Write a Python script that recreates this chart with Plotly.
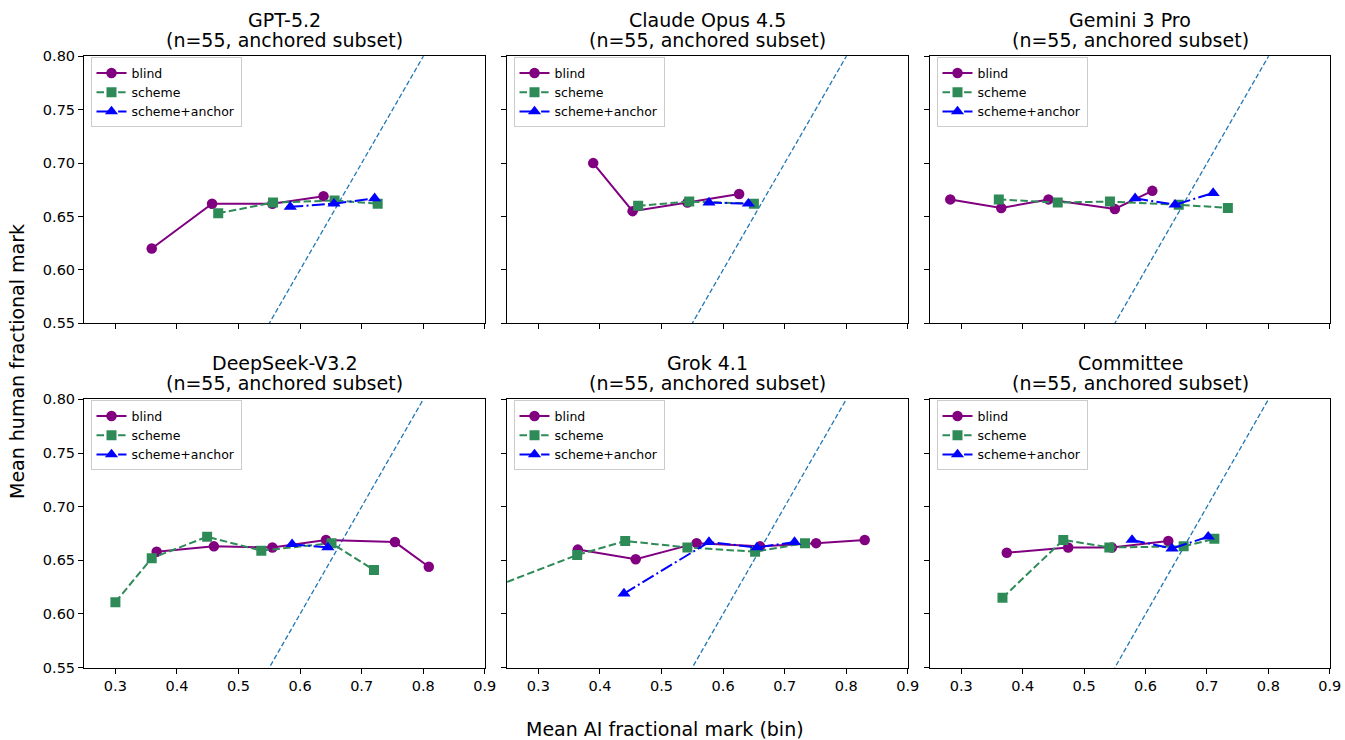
import plotly.graph_objects as go

W, H = 1345, 740

panel_titles = ["GPT-5.2", "Claude Opus 4.5", "Gemini 3 Pro",
                "DeepSeek-V3.2", "Grok 4.1", "Committee"]
subtitle = "(n=55, anchored subset)"

# blind
gpt_blind_x = [0.359, 0.457, 0.555, 0.638]
gpt_blind_y = [0.620, 0.662, 0.662, 0.669]
claude_blind_x = [0.389, 0.453, 0.542, 0.626]
claude_blind_y = [0.700, 0.655, 0.663, 0.671]
gemini_blind_x = [0.282, 0.365, 0.442, 0.550, 0.611]
gemini_blind_y = [0.666, 0.658, 0.666, 0.657, 0.674]
deepseek_blind_x = [0.367, 0.460, 0.555, 0.642, 0.754, 0.809]
deepseek_blind_y = [0.658, 0.663, 0.662, 0.669, 0.667, 0.644]
grok_blind_x = [0.364, 0.458, 0.557, 0.660, 0.751, 0.830]
grok_blind_y = [0.660, 0.651, 0.666, 0.663, 0.666, 0.669]
committee_blind_x = [0.374, 0.474, 0.545, 0.637]
committee_blind_y = [0.657, 0.662, 0.662, 0.668]

# scheme
gpt_scheme_x = [0.467, 0.556, 0.656, 0.726]
gpt_scheme_y = [0.653, 0.663, 0.665, 0.662]
claude_scheme_x = [0.462, 0.545, 0.650]
claude_scheme_y = [0.660, 0.664, 0.662]
gemini_scheme_x = [0.361, 0.457, 0.542, 0.654, 0.734]
gemini_scheme_y = [0.666, 0.663, 0.664, 0.661, 0.658]
deepseek_scheme_x = [0.300, 0.359, 0.449, 0.537, 0.651, 0.720]
deepseek_scheme_y = [0.611, 0.652, 0.672, 0.659, 0.666, 0.641]
grok_scheme_x = [0.200, 0.363, 0.441, 0.542, 0.652, 0.733]
grok_scheme_y = [0.619, 0.655, 0.668, 0.662, 0.658, 0.666]
committee_scheme_x = [0.367, 0.466, 0.541, 0.662, 0.712]
committee_scheme_y = [0.615, 0.669, 0.662, 0.663, 0.670]

# scheme+anchor
gpt_anchor_x = [0.584, 0.655, 0.721]
gpt_anchor_y = [0.659, 0.662, 0.667]
claude_anchor_x = [0.577, 0.641]
claude_anchor_y = [0.663, 0.662]
gemini_anchor_x = [0.583, 0.648, 0.710]
gemini_anchor_y = [0.667, 0.661, 0.672]
deepseek_anchor_x = [0.587, 0.645]
deepseek_anchor_y = [0.665, 0.662]
grok_anchor_x = [0.439, 0.577, 0.655, 0.716]
grok_anchor_y = [0.619, 0.667, 0.662, 0.667]
committee_anchor_x = [0.578, 0.643, 0.702]
committee_anchor_y = [0.669, 0.661, 0.672]

diag = [0.0, 1.0]

x_ticks = [0.3, 0.4, 0.5, 0.6, 0.7, 0.8, 0.9]
y_ticks = [0.55, 0.60, 0.65, 0.70, 0.75, 0.80]

blind = [(gpt_blind_x, gpt_blind_y), (claude_blind_x, claude_blind_y),
         (gemini_blind_x, gemini_blind_y), (deepseek_blind_x, deepseek_blind_y),
         (grok_blind_x, grok_blind_y), (committee_blind_x, committee_blind_y)]
scheme = [(gpt_scheme_x, gpt_scheme_y), (claude_scheme_x, claude_scheme_y),
          (gemini_scheme_x, gemini_scheme_y), (deepseek_scheme_x, deepseek_scheme_y),
          (grok_scheme_x, grok_scheme_y), (committee_scheme_x, committee_scheme_y)]
anchor = [(gpt_anchor_x, gpt_anchor_y), (claude_anchor_x, claude_anchor_y),
          (gemini_anchor_x, gemini_anchor_y), (deepseek_anchor_x, deepseek_anchor_y),
          (grok_anchor_x, grok_anchor_y), (committee_anchor_x, committee_anchor_y)]

FONT = "DejaVu Sans"
PURPLE = "#800080"
GREEN = "#2e8b57"
BLUE = "#0000ff"
DIAG = "#1f77b4"

# panel pixel boxes (in screen pixels)
col_px = [(84, 485), (507, 908), (930, 1330)]
row_px = [(56.3, 323.3), (399.3, 667.7)]


def px(v):
    return v / W


def py(v):
    return 1 - v / H


fig = go.Figure()
layout = dict(
    width=W, height=H,
    margin=dict(l=0, r=0, t=0, b=0, pad=0, autoexpand=False),
    plot_bgcolor="white", paper_bgcolor="white",
    font=dict(family=FONT, color="black", size=14),
    showlegend=True,
    annotations=[],
)

for i in range(6):
    r, c = divmod(i, 3)
    k = i + 1
    xa = "x" if k == 1 else f"x{k}"
    ya = "y" if k == 1 else f"y{k}"
    lg = "legend" if k == 1 else f"legend{k}"
    x0, x1 = col_px[c]
    y0, y1 = row_px[r]

    fig.add_trace(go.Scatter(x=diag, y=diag, mode="lines", xaxis=xa, yaxis=ya,
                             line=dict(color=DIAG, width=1.3, dash="5px,2.5px"),
                             showlegend=False, hoverinfo="skip"))
    bx, by = blind[i]
    fig.add_trace(go.Scatter(x=bx, y=by, mode="lines+markers", name="blind",
                             xaxis=xa, yaxis=ya, legend=lg,
                             line=dict(color=PURPLE, width=2),
                             marker=dict(symbol="circle", size=10.5, color=PURPLE)))
    sx, sy = scheme[i]
    fig.add_trace(go.Scatter(x=sx, y=sy, mode="lines+markers", name="scheme",
                             xaxis=xa, yaxis=ya, legend=lg,
                             line=dict(color=GREEN, width=2, dash="7.5px,3.3px"),
                             marker=dict(symbol="square", size=10, color=GREEN)))
    ax_, ay_ = anchor[i]
    fig.add_trace(go.Scatter(x=ax_, y=ay_, mode="lines+markers", name="scheme+anchor",
                             xaxis=xa, yaxis=ya, legend=lg,
                             line=dict(color=BLUE, width=2, dash="13px,3.3px,2px,3.3px"),
                             marker=dict(symbol="triangle-up", size=11.5, color=BLUE)))

    axkey_x = "xaxis" if k == 1 else f"xaxis{k}"
    axkey_y = "yaxis" if k == 1 else f"yaxis{k}"
    layout[axkey_x] = dict(
        domain=[px(x0), px(x1)], anchor=ya,
        range=[0.249, 0.9003], tickvals=x_ticks,
        ticktext=[f"{v:.1f}" for v in x_ticks],
        showticklabels=(r == 1), automargin=False, ticklabeloverflow="allow",
        showgrid=False, zeroline=False,
        showline=True, linecolor="black", linewidth=1, mirror=True,
        ticks="outside", ticklen=5, tickcolor="black",
        tickfont=dict(family=FONT, size=14.5),
    )
    layout[axkey_y] = dict(
        domain=[py(y1), py(y0)], anchor=xa,
        range=[0.5499, 0.8001], tickvals=y_ticks,
        ticktext=[f"{v:.2f}" for v in y_ticks],
        showticklabels=(c == 0), automargin=False,
        showgrid=False, zeroline=False,
        showline=True, linecolor="black", linewidth=1, mirror=True,
        ticks="outside", ticklen=5, tickcolor="black",
        tickfont=dict(family=FONT, size=14.5),
    )
    layout[lg] = dict(
        x=px(x0 + 6.5), y=py(y0 + 1),
        xanchor="left", yanchor="top",
        bgcolor="rgba(255,255,255,0.8)", bordercolor="#cccccc", borderwidth=1,
        font=dict(family=FONT, size=12.5, color="black"),
        tracegroupgap=0, itemwidth=30,
    )
    cx = px((x0 + x1) / 2)
    layout["annotations"].append(dict(
        text=panel_titles[i], x=cx, y=py(y0 - 36.3),
        xref="paper", yref="paper", xanchor="center", yanchor="middle",
        showarrow=False, font=dict(family=FONT, size=19, color="black"),
    ))
    layout["annotations"].append(dict(
        text=subtitle, x=cx, y=py(y0 - 16),
        xref="paper", yref="paper", xanchor="center", yanchor="middle",
        showarrow=False, font=dict(family=FONT, size=19, color="black"),
    ))

layout["annotations"].append(dict(
    text="Mean AI fractional mark (bin)", x=px(665), y=py(729),
    xref="paper", yref="paper", xanchor="center", yanchor="middle",
    showarrow=False, font=dict(family=FONT, size=19, color="black")))
layout["annotations"].append(dict(
    text="Mean human fractional mark", x=px(17), y=py(362),
    xref="paper", yref="paper", xanchor="center", yanchor="middle",
    textangle=-90, showarrow=False, font=dict(family=FONT, size=19, color="black")))

fig.update_layout(**layout)
fig.write_html(
    "out.html",
    config={"displayModeBar": False},
    post_script="document.body.style.margin='0';document.body.style.overflow='hidden';",
)
